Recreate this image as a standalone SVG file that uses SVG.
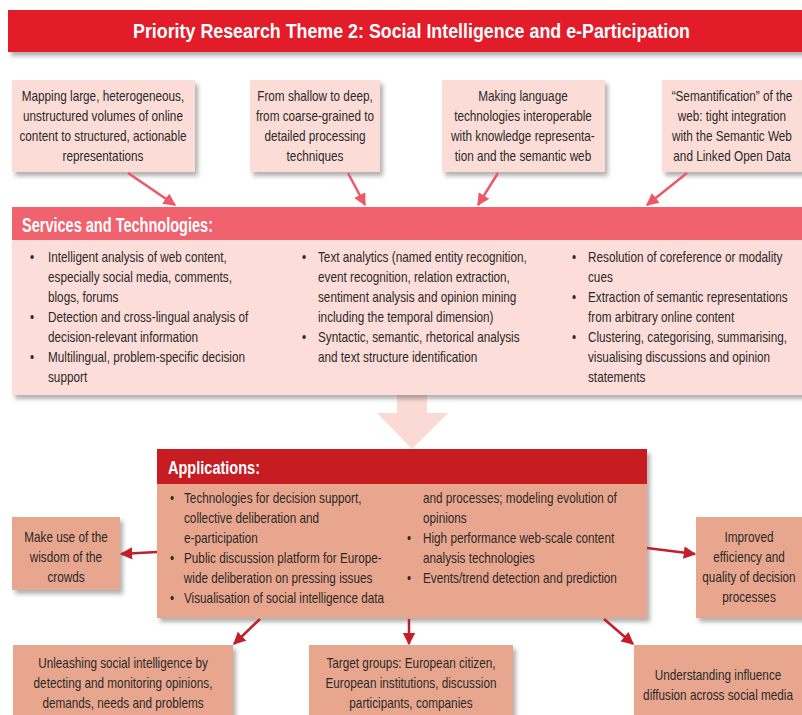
<svg xmlns="http://www.w3.org/2000/svg" width="802" height="715" viewBox="0 0 802 715">
<defs>
<filter id="sh" x="-10%" y="-10%" width="130%" height="140%">
<feDropShadow dx="3" dy="4" stdDeviation="2" flood-color="#555" flood-opacity="0.45"/>
</filter>
<marker id="ap" viewBox="0 0 10 10" refX="9" refY="5" markerWidth="5" markerHeight="5" orient="auto"><path d="M0,0 L10,5 L0,10 z" fill="#EE5866"/></marker>
<marker id="ar" viewBox="0 0 10 10" refX="9" refY="5" markerWidth="5" markerHeight="5" orient="auto"><path d="M0,0 L10,5 L0,10 z" fill="#C41E2A"/></marker>
</defs>
<style>
text{font-family:"Liberation Sans",Arial,sans-serif;fill:#2B2A29;font-size:14px;transform-box:fill-box;transform-origin:0 50%;transform:scaleX(0.84)}
.c{text-anchor:middle;transform-origin:50% 50%}
.h{fill:#fff;font-weight:bold;transform:none}
.top{fill:#FCDCD7}
.low{fill:#E8A68E}
.ca{stroke:#EE5866;stroke-width:2.5;fill:none;marker-end:url(#ap)}
.cr{stroke:#C41E2A;stroke-width:2.5;fill:none;marker-end:url(#ar)}
</style>
<rect width="802" height="715" fill="#fff"/>

<g id="title">
<rect x="8" y="10" width="800" height="42" fill="#E31E2B" filter="url(#sh)"/>
<text x="133" y="38" class="h" style="font-size:20px" textLength="557" lengthAdjust="spacingAndGlyphs">Priority Research Theme 2: Social Intelligence and e-Participation</text>
</g>

<g id="top1">
<rect x="12" y="80" width="183" height="92" class="top" filter="url(#sh)"/>
<text class="c" x="103" y="101">Mapping large, heterogeneous,</text>
<text class="c" x="103" y="121">unstructured volumes of online</text>
<text class="c" x="103" y="141">content to structured, actionable</text>
<text class="c" x="103" y="161">representations</text>
</g>
<g id="top2">
<rect x="250" y="80" width="130" height="92" class="top" filter="url(#sh)"/>
<text class="c" x="315" y="101">From shallow to deep,</text>
<text class="c" x="315" y="121">from coarse-grained to</text>
<text class="c" x="315" y="141">detailed processing</text>
<text class="c" x="315" y="161">techniques</text>
</g>
<g id="top3">
<rect x="442" y="80" width="163" height="92" class="top" filter="url(#sh)"/>
<text class="c" x="523" y="101">Making language</text>
<text class="c" x="523" y="121">technologies interoperable</text>
<text class="c" x="523" y="141">with knowledge representa-</text>
<text class="c" x="523" y="161">tion and the semantic web</text>
</g>
<g id="top4">
<rect x="662" y="80" width="145" height="92" class="top" filter="url(#sh)"/>
<text class="c" x="732" y="101">“Semantification” of the</text>
<text class="c" x="732" y="121">web: tight integration</text>
<text class="c" x="732" y="141">with the Semantic Web</text>
<text class="c" x="732" y="161">and Linked Open Data</text>
</g>

<g id="bigarrow">
<polygon points="397,390 427,390 427,413 448,413 412,449 377,413 397,413" fill="#FBD9D4"/>
</g>

<g id="services">
<rect x="12" y="240" width="795" height="155" fill="#FCDDD9" filter="url(#sh)"/>
<rect x="12" y="207" width="795" height="33" fill="#F0626E"/>
<text x="22" y="232" class="h" style="font-size:20px" textLength="191" lengthAdjust="spacingAndGlyphs">Services and Technologies:</text>
<g>
<text x="30" y="262">•</text><text x="48" y="262">Intelligent analysis of web content,</text>
<text x="48" y="282">especially social media, comments,</text>
<text x="48" y="302">blogs, forums</text>
<text x="30" y="322">•</text><text x="48" y="322">Detection and cross-lingual analysis of</text>
<text x="48" y="342">decision-relevant information</text>
<text x="30" y="362">•</text><text x="48" y="362">Multilingual, problem-specific decision</text>
<text x="48" y="382">support</text>
</g>
<g>
<text x="302" y="262">•</text><text x="318" y="262">Text analytics (named entity recognition,</text>
<text x="318" y="282">event recognition, relation extraction,</text>
<text x="318" y="302">sentiment analysis and opinion mining</text>
<text x="318" y="322">including the temporal dimension)</text>
<text x="302" y="342">•</text><text x="318" y="342">Syntactic, semantic, rhetorical analysis</text>
<text x="318" y="362">and text structure identification</text>
</g>
<g>
<text x="572" y="262">•</text><text x="588" y="262">Resolution of coreference or modality</text>
<text x="588" y="282">cues</text>
<text x="572" y="302">•</text><text x="588" y="302">Extraction of semantic representations</text>
<text x="588" y="322">from arbitrary online content</text>
<text x="572" y="342">•</text><text x="588" y="342">Clustering, categorising, summarising,</text>
<text x="588" y="362">visualising discussions and opinion</text>
<text x="588" y="382">statements</text>
</g>
</g>

<g id="applications">
<rect x="157" y="449" width="490" height="169" class="low" filter="url(#sh)"/>
<rect x="157" y="449" width="490" height="35" fill="#C81C23"/>
<text x="168" y="474" class="h" style="font-size:18px" textLength="92" lengthAdjust="spacingAndGlyphs">Applications:</text>
<text x="170" y="503">•</text><text x="184" y="503">Technologies for decision support,</text>
<text x="184" y="523">collective deliberation and</text>
<text x="184" y="543">e-participation</text>
<text x="170" y="563">•</text><text x="184" y="563">Public discussion platform for Europe-</text>
<text x="184" y="583">wide deliberation on pressing issues</text>
<text x="170" y="603">•</text><text x="184" y="603">Visualisation of social intelligence data</text>
<text x="423" y="503">and processes; modeling evolution of</text>
<text x="423" y="523">opinions</text>
<text x="407" y="543">•</text><text x="423" y="543">High performance web-scale content</text>
<text x="423" y="563">analysis technologies</text>
<text x="407" y="583">•</text><text x="423" y="583">Events/trend detection and prediction</text>
</g>

<g id="wisdom">
<rect x="12" y="517" width="108" height="73" class="low" filter="url(#sh)"/>
<text class="c" x="66" y="542">Make use of the</text>
<text class="c" x="66" y="562">wisdom of the</text>
<text class="c" x="66" y="582">crowds</text>
</g>
<g id="improved">
<rect x="696" y="517" width="111" height="101" class="low" filter="url(#sh)"/>
<text class="c" x="749" y="542">Improved</text>
<text class="c" x="749" y="562">efficiency and</text>
<text class="c" x="749" y="582">quality of decision</text>
<text class="c" x="749" y="602">processes</text>
</g>
<g id="unleashing">
<rect x="13" y="645" width="220" height="80" class="low" filter="url(#sh)"/>
<text class="c" x="123" y="668">Unleashing social intelligence by</text>
<text class="c" x="123" y="688">detecting and monitoring opinions,</text>
<text class="c" x="123" y="708">demands, needs and problems</text>
</g>
<g id="target">
<rect x="309" y="645" width="204" height="80" class="low" filter="url(#sh)"/>
<text class="c" x="411" y="668">Target groups: European citizen,</text>
<text class="c" x="411" y="688">European institutions, discussion</text>
<text class="c" x="411" y="708">participants, companies</text>
</g>
<g id="influence">
<rect x="634" y="645" width="173" height="80" class="low" filter="url(#sh)"/>
<text class="c" x="718" y="680">Understanding influence</text>
<text class="c" x="718" y="700">diffusion across social media</text>
</g>

<g id="connectors">
<line class="ca" x1="128" y1="173" x2="175" y2="205"/>
<line class="ca" x1="348" y1="173" x2="365" y2="205"/>
<line class="ca" x1="498" y1="173" x2="478" y2="205"/>
<line class="ca" x1="687" y1="173" x2="647" y2="205"/>
<line class="cr" x1="157" y1="552" x2="121" y2="554"/>
<line class="cr" x1="647" y1="548" x2="695" y2="554"/>
<line class="cr" x1="260" y1="619" x2="234" y2="644"/>
<line class="cr" x1="409" y1="619" x2="409" y2="644"/>
<line class="cr" x1="604" y1="619" x2="633" y2="644"/>
</g>
</svg>
